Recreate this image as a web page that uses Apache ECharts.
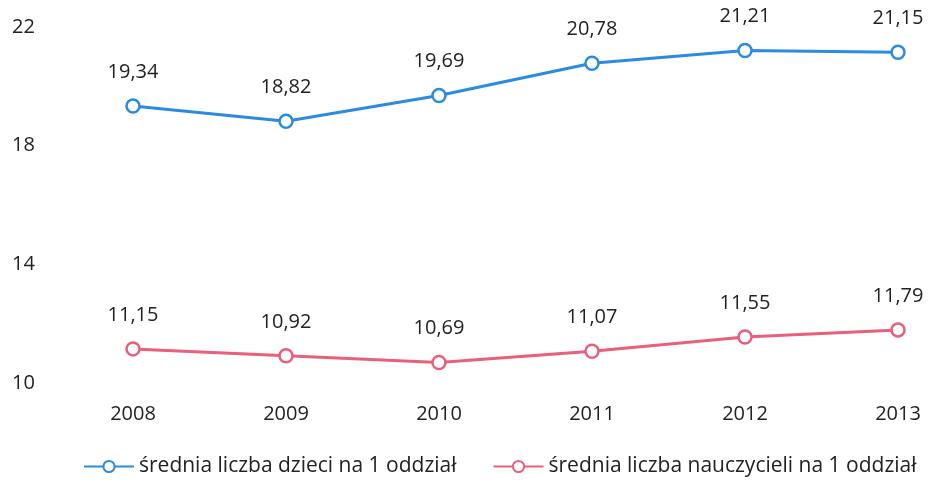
<!DOCTYPE html>
<html>
<head>
<meta charset="utf-8">
<script src="https://cdn.jsdelivr.net/npm/echarts@6/dist/echarts.min.js"></script>
<style>
  html, body { margin: 0; padding: 0; background: #fff; }
  #chart { width: 928px; height: 484px; }
</style>
</head>
<body>
<div id="chart"></div>
<script>
// ===== 数据 =====
var years = ['2008', '2009', '2010', '2011', '2012', '2013'];
var dzieci = [19.34, 18.82, 19.69, 20.78, 21.21, 21.15];
var nauczyciele = [11.15, 10.92, 10.69, 11.07, 11.55, 11.79];
var seriesNames = ['średnia liczba dzieci na 1 oddział', 'średnia liczba nauczycieli na 1 oddział'];

var FONT = '"Open Sans", "Noto Sans", sans-serif';

function fmt(p) {
  return p.value.toFixed(2).replace('.', ',');
}

function lineSeries(name, data, color) {
  return {
    name: name,
    type: 'line',
    data: data,
    symbol: 'circle',
    symbolSize: 13,
    showAllSymbol: true,
    lineStyle: { color: color, width: 3 },
    itemStyle: { color: '#fff', borderColor: color, borderWidth: 2.5 },
    label: {
      show: true,
      position: 'top',
      distance: 16,
      formatter: fmt,
      color: '#222',
      fontSize: 20,
      fontFamily: FONT
    }
  };
}

var chart = echarts.init(document.getElementById('chart'));

chart.setOption({
  backgroundColor: '#fff',
  animation: false,
  grid: { left: 133, right: 30, top: 27, bottom: 101 },
  legend: {
    bottom: 2,
    left: 78,
    itemWidth: 50,
    itemHeight: 14,
    itemGap: 36,
    textStyle: { fontSize: 21, color: '#222', fontFamily: FONT },
    data: seriesNames
  },
  xAxis: {
    type: 'category',
    data: years,
    boundaryGap: false,
    axisLine: { show: false },
    axisTick: { show: false },
    axisLabel: { fontSize: 20, color: '#222', fontFamily: FONT, margin: 21 }
  },
  yAxis: {
    type: 'value',
    min: 10,
    max: 22,
    interval: 4,
    splitLine: { show: false },
    axisLine: { show: false },
    axisTick: { show: false },
    axisLabel: { fontSize: 20, color: '#222', fontFamily: FONT, align: 'left', margin: 121 }
  },
  series: [
    lineSeries(seriesNames[0], dzieci, '#2a8be0'),
    lineSeries(seriesNames[1], nauczyciele, '#e8607c')
  ]
});
</script>
</body>
</html>
